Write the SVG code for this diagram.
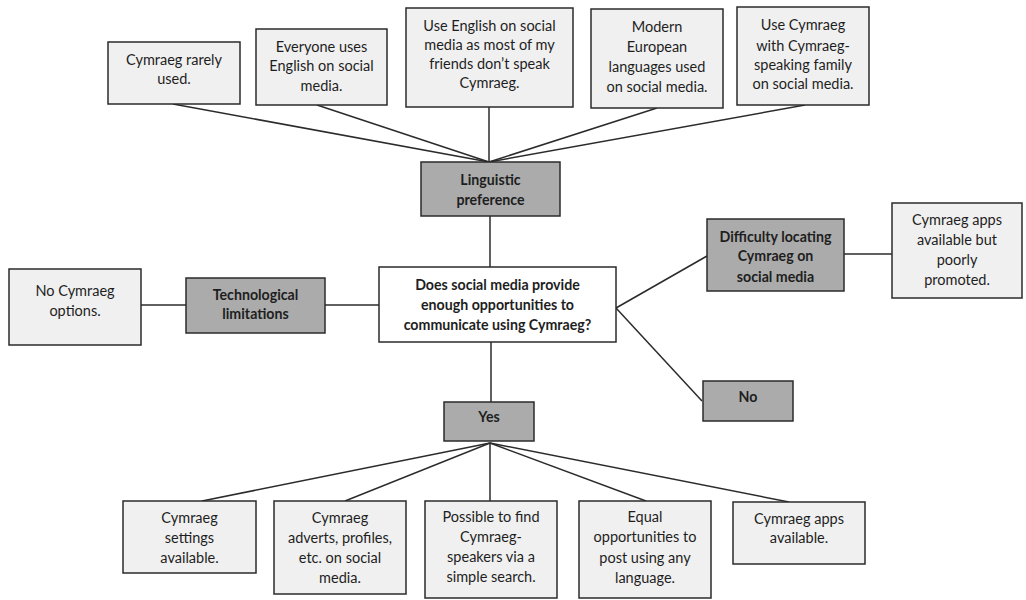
<svg xmlns="http://www.w3.org/2000/svg" width="1026" height="600" viewBox="0 0 1026 600">
<style>
.light{fill:#f0f0f0;stroke:#2b2b2b;stroke-width:1.5}
.dark{fill:#ababab;stroke:#2b2b2b;stroke-width:1.5}
.white{fill:#ffffff;stroke:#2b2b2b;stroke-width:1.5}
text{font-family:Lato,"Liberation Sans",sans-serif;font-size:14.5px;fill:#1e1e1e;text-anchor:middle}
.b{font-weight:bold;font-size:14.2px}
#connectors line{stroke:#2b2b2b;stroke-width:1.5}
</style>
<rect width="1026" height="600" fill="#ffffff"/>
<g id="connectors">
<line x1="173" y1="104" x2="489" y2="162"/>
<line x1="317" y1="105" x2="489" y2="162"/>
<line x1="489" y1="107" x2="489" y2="162"/>
<line x1="657" y1="108" x2="489" y2="162"/>
<line x1="805" y1="105" x2="489" y2="162"/>
<line x1="490" y1="216" x2="490" y2="267"/>
<line x1="141" y1="305" x2="186" y2="305"/>
<line x1="325" y1="305" x2="379" y2="305"/>
<line x1="616" y1="308" x2="707" y2="256"/>
<line x1="616" y1="308" x2="702" y2="401"/>
<line x1="844" y1="254" x2="892" y2="254"/>
<line x1="491" y1="342" x2="491" y2="402"/>
<line x1="490" y1="443" x2="202" y2="501"/>
<line x1="490" y1="443" x2="345" y2="501"/>
<line x1="490" y1="443" x2="490" y2="501"/>
<line x1="490" y1="443" x2="646" y2="501"/>
<line x1="490" y1="443" x2="789" y2="502"/>
</g>
<g id="n-rarely"><rect class="light" x="108" y="42" width="132" height="62"/>
<text x="174" y="65">Cymraeg rarely</text><text x="174" y="84">used.</text></g>
<g id="n-everyone"><rect class="light" x="256" y="29" width="131" height="76"/>
<text x="321.5" y="52">Everyone uses</text><text x="321.5" y="71">English on social</text><text x="321.5" y="91">media.</text></g>
<g id="n-friends"><rect class="light" x="406" y="8" width="167" height="99"/>
<text x="489.5" y="31">Use English on social</text><text x="489.5" y="50">media as most of my</text><text x="489.5" y="69">friends don’t  speak</text><text x="489.5" y="88">Cymraeg.</text></g>
<g id="n-european"><rect class="light" x="591" y="9" width="132" height="99"/>
<text x="657" y="32">Modern</text><text x="657" y="52">European</text><text x="657" y="72">languages used</text><text x="657" y="92">on social media.</text></g>
<g id="n-family"><rect class="light" x="737" y="7" width="132" height="98"/>
<text x="803" y="30">Use Cymraeg</text><text x="803" y="51">with Cymraeg-</text><text x="803" y="70">speaking family</text><text x="803" y="89">on social media.</text></g>
<g id="n-linguistic"><rect class="dark" x="421" y="162" width="139" height="54"/>
<text class="b" x="490.5" y="185">Linguistic</text><text class="b" x="490.5" y="205">preference</text></g>
<g id="n-question"><rect class="white" x="379" y="267" width="237" height="75"/>
<text class="b" x="497.5" y="290">Does social media provide</text><text class="b" x="497.5" y="310">enough opportunities  to</text><text class="b" x="497.5" y="330">communicate using Cymraeg?</text></g>
<g id="n-tech"><rect class="dark" x="186" y="278" width="139" height="55"/>
<text class="b" x="255.5" y="300">Technological</text><text class="b" x="255.5" y="319">limitations</text></g>
<g id="n-nooptions"><rect class="light" x="9" y="269" width="132" height="76"/>
<text x="75" y="296">No Cymraeg</text><text x="75" y="316">options.</text></g>
<g id="n-difficulty"><rect class="dark" x="707" y="219" width="137" height="72"/>
<text class="b" x="775.5" y="242">Difficulty locating</text><text class="b" x="775.5" y="261">Cymraeg on</text><text class="b" x="775.5" y="282">social media</text></g>
<g id="n-promoted"><rect class="light" x="892" y="203" width="130" height="95"/>
<text x="957" y="225">Cymraeg apps</text><text x="957" y="245">available but</text><text x="957" y="265">poorly</text><text x="957" y="285">promoted.</text></g>
<g id="n-no"><rect class="dark" x="703" y="381" width="90" height="40"/>
<text class="b" x="748" y="402">No</text></g>
<g id="n-yes"><rect class="dark" x="444" y="402" width="90" height="39"/>
<text class="b" x="489" y="422">Yes</text></g>
<g id="n-settings"><rect class="light" x="123" y="501" width="133" height="72"/>
<text x="189.5" y="523">Cymraeg</text><text x="189.5" y="543">settings</text><text x="189.5" y="563">available.</text></g>
<g id="n-adverts"><rect class="light" x="274" y="501" width="132" height="93"/>
<text x="340" y="523">Cymraeg</text><text x="340" y="543">adverts, profiles,</text><text x="340" y="563">etc. on social</text><text x="340" y="583">media.</text></g>
<g id="n-search"><rect class="light" x="425" y="501" width="132" height="97"/>
<text x="491" y="522">Possible to find</text><text x="491" y="542">Cymraeg-</text><text x="491" y="562">speakers via a</text><text x="491" y="582">simple search.</text></g>
<g id="n-equal"><rect class="light" x="579" y="501" width="132" height="97"/>
<text x="645" y="522">Equal</text><text x="645" y="542">opportunities to</text><text x="645" y="563">post using any</text><text x="645" y="583">language.</text></g>
<g id="n-apps"><rect class="light" x="733" y="502" width="132" height="62"/>
<text x="799" y="524">Cymraeg apps</text><text x="799" y="543">available.</text></g>
</svg>
